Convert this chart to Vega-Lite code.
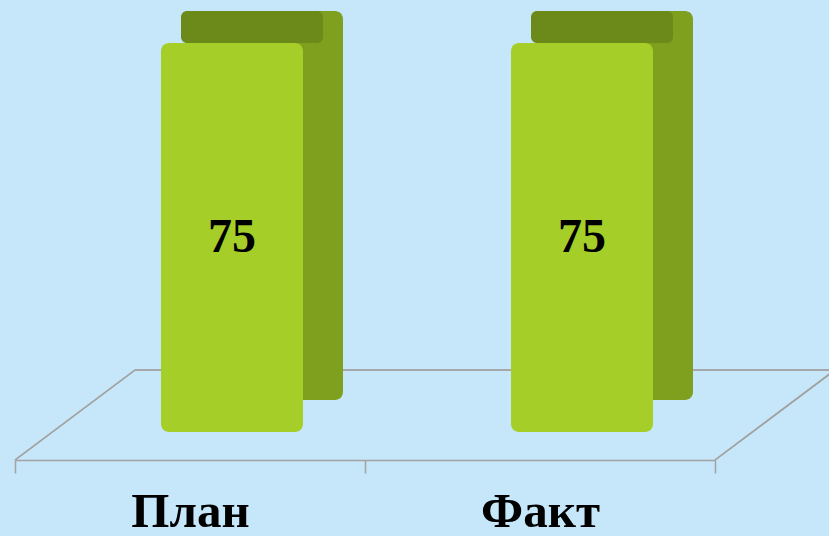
{
  "$schema": "https://vega.github.io/schema/vega-lite/v6.json",
  "width": 700,
  "height": 389,
  "autosize": {"type": "none"},
  "padding": {"left": 15, "top": 43, "right": 114, "bottom": 104},
  "background": "#c6e6f9",
  "config": {"view": {"stroke": null}},
  "data": {"values": [
    {"category": "План", "value": 75},
    {"category": "Факт", "value": 75}
  ]},
  "encoding": {
    "x": {
      "field": "category", "type": "nominal", "sort": null,
      "scale": {"paddingInner": 0, "paddingOuter": 0},
      "axis": {
        "title": null, "labelAngle": 0, "offset": 28,
        "domainColor": "#a3a3a3", "domainWidth": 1.5,
        "tickColor": "#a3a3a3", "tickWidth": 1.5, "tickSize": 13, "tickBand": "extent",
        "labelFont": "Liberation Serif", "labelFontSize": 49, "labelFontWeight": "bold",
        "labelColor": "#000000", "labelPadding": 14
      }
    }
  },
  "layer": [
    {
      "mark": {"type": "rule", "color": "#a3a3a3", "strokeWidth": 1.5, "xOffset": 120, "x2Offset": 120, "yOffset": -62},
      "encoding": {
        "x": {"datum": "План", "bandPosition": 0},
        "x2": {"datum": "Факт", "bandPosition": 1},
        "y": {"datum": 0, "type": "quantitative", "scale": {"domain": [0, 75], "nice": false}, "axis": null}
      }
    },
    {
      "mark": {"type": "rule", "color": "#a3a3a3", "strokeWidth": 1.5, "xOffset": 0, "x2Offset": 120, "yOffset": 28, "y2Offset": -62},
      "encoding": {
        "x": {"datum": "План", "bandPosition": 0},
        "x2": {"datum": "План", "bandPosition": 0},
        "y": {"datum": 0, "type": "quantitative"},
        "y2": {"datum": 0}
      }
    },
    {
      "mark": {"type": "rule", "color": "#a3a3a3", "strokeWidth": 1.5, "xOffset": 0, "x2Offset": 120, "yOffset": 28, "y2Offset": -62},
      "encoding": {
        "x": {"datum": "Факт", "bandPosition": 1},
        "x2": {"datum": "Факт", "bandPosition": 1},
        "y": {"datum": 0, "type": "quantitative"},
        "y2": {"datum": 0}
      }
    },
    {
      "mark": {"type": "bar", "width": 142, "xOffset": 82, "yOffset": -32, "y2Offset": -32, "color": "#7fa01e", "cornerRadius": 8},
      "encoding": {
        "y": {"field": "value", "type": "quantitative"},
        "y2": {"datum": 0}
      }
    },
    {
      "mark": {"type": "bar", "width": 142, "xOffset": 62, "yOffset": -32, "y2Offset": 0, "color": "#6b8a1a", "cornerRadius": 6},
      "encoding": {
        "y": {"field": "value", "type": "quantitative"},
        "y2": {"field": "value"}
      }
    },
    {
      "mark": {"type": "bar", "width": 142, "xOffset": 42, "color": "#a5cf28", "cornerRadius": 8},
      "encoding": {
        "y": {"field": "value", "type": "quantitative"},
        "y2": {"datum": 0}
      }
    },
    {
      "transform": [{"calculate": "datum.value / 2", "as": "mid"}],
      "mark": {"type": "text", "xOffset": 42, "font": "Liberation Serif", "fontSize": 48, "fontWeight": "bold", "color": "#000000", "baseline": "middle"},
      "encoding": {
        "y": {"field": "mid", "type": "quantitative"},
        "text": {"field": "value", "type": "quantitative"}
      }
    }
  ]
}
